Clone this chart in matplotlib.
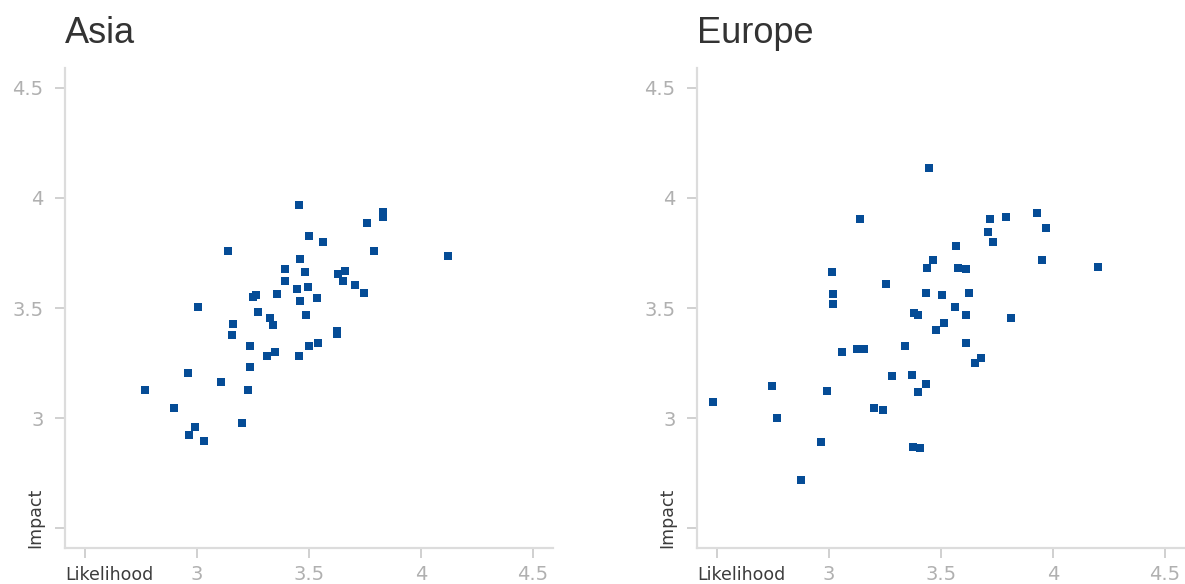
# Likelihood vs impact scatter, Asia and Europe side by side
import matplotlib.pyplot as plt
import numpy as np

asia_likelihood = [3.454, 3.829, 3.829, 3.759, 3.501, 3.562, 3.137, 3.788, 4.119, 3.460,
                   3.392, 3.481, 3.630, 3.659, 3.651, 3.392, 3.706, 3.494, 3.447, 3.746,
                   3.359, 3.250, 3.264, 3.536, 3.460, 3.004, 3.273, 3.488, 3.324, 3.339,
                   3.162, 3.623, 3.623, 3.155, 3.236, 3.501, 3.539, 3.350, 3.310, 3.454,
                   3.236, 2.958, 3.108, 2.767, 3.229, 2.896, 3.202, 2.992, 2.964, 3.032]
asia_impact = [3.968, 3.938, 3.912, 3.885, 3.829, 3.801, 3.760, 3.760, 3.738, 3.724,
               3.676, 3.662, 3.655, 3.670, 3.621, 3.621, 3.606, 3.594, 3.585, 3.568,
               3.565, 3.549, 3.560, 3.544, 3.530, 3.503, 3.482, 3.468, 3.456, 3.424,
               3.426, 3.395, 3.382, 3.377, 3.329, 3.329, 3.342, 3.301, 3.280, 3.280,
               3.230, 3.203, 3.162, 3.127, 3.127, 3.047, 2.980, 2.960, 2.924, 2.897]

europe_likelihood = [3.445, 3.931, 3.792, 3.718, 3.137, 3.970, 3.710, 3.732, 3.568, 3.466,
                     3.949, 4.201, 3.438, 3.574, 3.610, 3.011, 3.256, 3.432, 3.623, 3.506,
                     3.019, 3.019, 3.561, 3.381, 3.396, 3.610, 3.814, 3.513, 3.479, 3.610,
                     3.337, 3.059, 3.125, 3.155, 3.678, 3.650, 3.282, 3.371, 3.433, 2.744,
                     3.395, 2.989, 2.481, 3.201, 3.242, 2.767, 2.964, 3.376, 3.408, 2.875]
europe_impact = [4.135, 3.933, 3.912, 3.906, 3.905, 3.864, 3.844, 3.801, 3.780, 3.718,
                 3.718, 3.688, 3.683, 3.683, 3.676, 3.662, 3.608, 3.570, 3.568, 3.558,
                 3.562, 3.517, 3.503, 3.476, 3.468, 3.468, 3.453, 3.433, 3.399, 3.342,
                 3.329, 3.301, 3.312, 3.315, 3.273, 3.251, 3.190, 3.197, 3.156, 3.147,
                 3.120, 3.121, 3.071, 3.047, 3.036, 3.001, 2.891, 2.871, 2.862, 2.717]

ticks = [2.5, 3, 3.5, 4, 4.5]
tick_labels = ["", "3", "3.5", "4", "4.5"]

panels = [("Asia", asia_likelihood, asia_impact),
          ("Europe", europe_likelihood, europe_impact)]

fig = plt.figure(figsize=(11.85, 5.84), dpi=100)
axes = [fig.add_axes([0.0549, 0.0616, 0.4118, 0.822]),
        fig.add_axes([0.5882, 0.0616, 0.4118, 0.822])]

for ax, (name, xs, ys) in zip(axes, panels):
    ax.scatter(xs, ys, marker='s', s=26, color='#054c96', linewidths=0, zorder=3)
    ax.set_xlim(2.41, 4.59)
    ax.set_ylim(2.41, 4.59)
    for side in ['top', 'right']:
        ax.spines[side].set_visible(False)
    for side in ['left', 'bottom']:
        ax.spines[side].set_color('#dcdcdc')
        ax.spines[side].set_linewidth(1.6)
    ax.set_xticks(ticks)
    ax.set_xticklabels(tick_labels, fontfamily='DejaVu Sans', fontsize=14, color='#b0b0b0')
    ax.set_yticks(ticks)
    ax.set_yticklabels(tick_labels, fontfamily='DejaVu Sans', fontsize=14, color='#b0b0b0')
    ax.tick_params(axis='both', direction='out', length=7, width=1.4, color='#d0d0d0')
    ax.tick_params(axis='x', pad=5)
    ax.tick_params(axis='y', pad=8.5)
    # axis names sit at the lower left corner, where the 2.5 labels would be
    ax.set_xlabel("Likelihood", fontfamily='DejaVu Sans', fontsize=12.5, color='#3c3c3c')
    ax.xaxis.set_label_coords(0, -0.037)
    ax.xaxis.label.set_horizontalalignment('left')
    ax.set_ylabel("Impact", fontfamily='DejaVu Sans', fontsize=12.5, color='#3c3c3c')
    ax.yaxis.set_label_coords(-0.062, 0)
    ax.yaxis.label.set_verticalalignment('center')
    ax.yaxis.label.set_horizontalalignment('left')
    ax.set_title(name, loc='left', fontsize=26, fontfamily='Liberation Sans',
                 color='#333333', pad=18)

fig.savefig('out.png')
